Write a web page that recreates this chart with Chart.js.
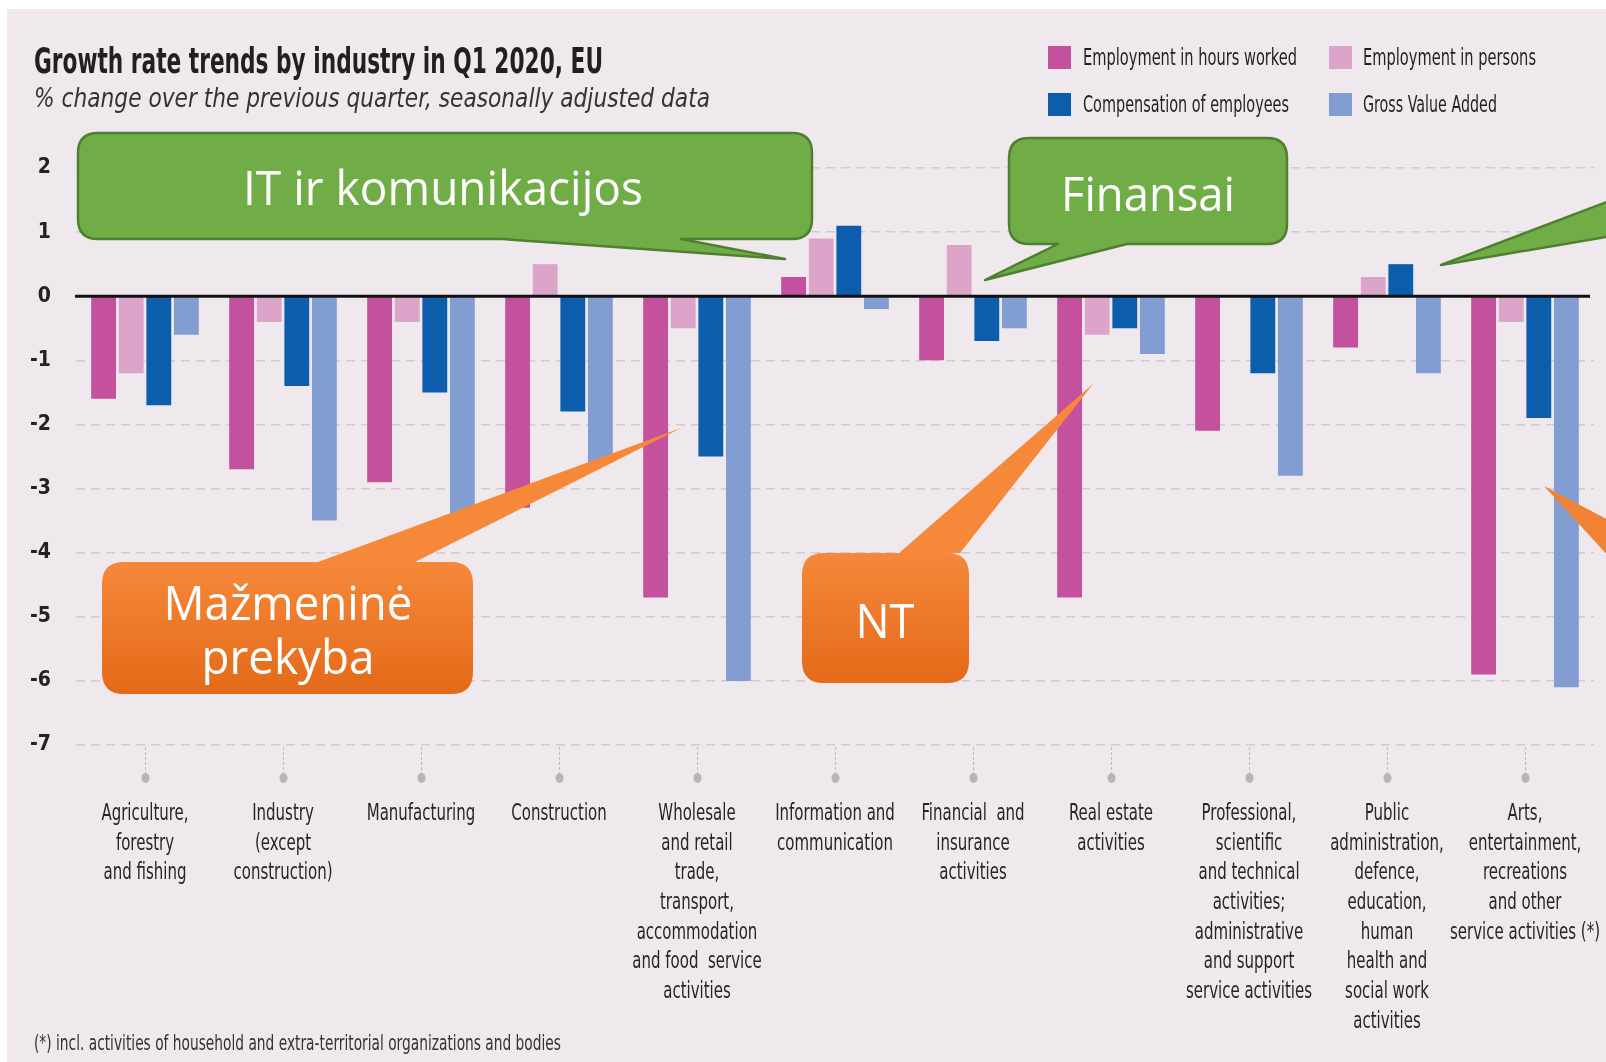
<!DOCTYPE html>
<html>
<head>
<meta charset="utf-8">
<script src="https://cdn.jsdelivr.net/npm/chart.js@4.4.1/dist/chart.umd.min.js"></script>
<style>
  html, body { margin:0; padding:0; background:#ffffff; width:1606px; height:1062px; overflow:hidden; }
  #panel { position:absolute; left:7px; top:9px; width:1599px; height:1053px; background:#EFE9ED; }
  #c { position:absolute; left:0; top:0; }
  #ov { position:absolute; left:0; top:0; pointer-events:none; }
  #ov text { white-space: pre; }
</style>
</head>
<body>
<div id="panel"></div>
<canvas id="c" width="1606" height="1062"></canvas>
<svg id="ov" width="1606" height="1062" xmlns="http://www.w3.org/2000/svg"></svg>
<script>
// ---------------- DATA ----------------
const categories = [
  ["Agriculture,", "forestry", "and fishing"],
  ["Industry", "(except", "construction)"],
  ["Manufacturing"],
  ["Construction"],
  ["Wholesale", "and retail", "trade,", "transport,", "accommodation", "and food  service", "activities"],
  ["Information and", "communication"],
  ["Financial  and", "insurance", "activities"],
  ["Real estate", "activities"],
  ["Professional,", "scientific", "and technical", "activities;", "administrative", "and support", "service activities"],
  ["Public", "administration,", "defence,", "education,", "human", "health and", "social work", "activities"],
  ["Arts,", "entertainment,", "recreations", "and other", "service activities (*)"]
];
const seriesNames = ["Employment in hours worked", "Employment in persons", "Compensation of employees", "Gross Value Added"];
const employmentHours   = [-1.6, -2.7, -2.9, -3.3, -4.7,  0.3, -1.0, -4.7, -2.1, -0.8, -5.9];
const employmentPersons = [-1.2, -0.4, -0.4,  0.5, -0.5,  0.9,  0.8, -0.6,  0.0,  0.3, -0.4];
const compensation      = [-1.7, -1.4, -1.5, -1.8, -2.5,  1.1, -0.7, -0.5, -1.2,  0.5, -1.9];
const grossValueAdded   = [-0.6, -3.5, -3.6, -2.6, -6.0, -0.2, -0.5, -0.9, -2.8, -1.2, -6.1];
const yTicks = [2, 1, 0, -1, -2, -3, -4, -5, -6, -7];

const titleText = "Growth rate trends by industry in Q1 2020, EU";
const subtitleText = "% change over the previous quarter, seasonally adjusted data";
const footnoteText = "(*) incl. activities of household and extra-territorial organizations and bodies";
const calloutTexts = [["IT ir komunikacijos"], ["Finansai"], ["Mažmeninė", "prekyba"], ["NT"]];

// ---------------- STYLE / LAYOUT ----------------
const COLORS = ["#C4519D", "#DDA4C9", "#0C5EAD", "#819DD1"];
const NARROW = '"Liberation Sans Narrow", "DejaVu Sans Condensed", "Liberation Sans", sans-serif';
const CALL_FONT = '"Open Sans", "Noto Sans", sans-serif';

const series = [employmentHours, employmentPersons, compensation, grossValueAdded];

// zero line + tick stems/dots
const extras = {
  id: 'extras',
  afterDatasetsDraw(chart) {
    const ctx = chart.ctx, a = chart.chartArea;
    const ys = chart.scales.y, xs = chart.scales.x;
    ctx.save();
    const y0 = ys.getPixelForValue(0);
    ctx.strokeStyle = '#111';
    ctx.lineWidth = 3;
    ctx.beginPath(); ctx.moveTo(a.left - 1, y0); ctx.lineTo(a.right - 4, y0); ctx.stroke();
    for (let i = 0; i < categories.length; i++) {
      const x = Math.round(xs.getPixelForValue(i)) + 0.5;
      ctx.strokeStyle = '#BDB8BC'; ctx.lineWidth = 1;
      ctx.setLineDash([3, 2]);
      ctx.beginPath(); ctx.moveTo(x, a.bottom + 2); ctx.lineTo(x, a.bottom + 30); ctx.stroke();
      ctx.setLineDash([]);
      ctx.fillStyle = '#B9B4B8';
      ctx.beginPath(); ctx.ellipse(x, a.bottom + 33, 4, 5, 0, 0, Math.PI * 2); ctx.fill();
    }
    ctx.restore();
  }
};

const chart = new Chart(document.getElementById('c'), {
  type: 'bar',
  data: {
    labels: categories,
    datasets: series.map((d, i) => ({
      label: seriesNames[i], data: d, backgroundColor: COLORS[i], borderWidth: 0
    }))
  },
  options: {
    responsive: false,
    animation: false,
    devicePixelRatio: 1,
    layout: { padding: { top: 168, right: 12, bottom: 0, left: 0 } },
    plugins: { legend: { display: false }, tooltip: { enabled: false }, title: { display: false } },
    datasets: { bar: { categoryPercentage: 0.8, barPercentage: 0.9 } },
    scales: {
      x: {
        grid: { display: false, drawTicks: false },
        border: { display: false },
        ticks: { display: false },
        afterFit(s) { s.height = 317; }
      },
      y: {
        min: -7, max: 2,
        afterBuildTicks(s) { s.ticks = yTicks.map(v => ({ value: v })); },
        grid: {
          drawTicks: false, lineWidth: 1.5,
          color: c => (c.tick && c.tick.value === 0) ? 'rgba(0,0,0,0)' : '#D2CCD0'
        },
        border: { display: false, dash: [9, 6] },
        ticks: { color: '#222222', padding: 25, font: { family: NARROW, size: 21, weight: 'bold' } },
        afterFit(s) { s.width = 76; }
      }
    }
  },
  plugins: [extras]
});

// ---------------- SVG OVERLAY ----------------
const NS = 'http://www.w3.org/2000/svg';
const svg = document.getElementById('ov');
function el(tag, attrs, parent) {
  const e = document.createElementNS(NS, tag);
  for (const k in attrs) e.setAttribute(k, attrs[k]);
  (parent || svg).appendChild(e);
  return e;
}
function txt(str, o, parent) {
  const t = el('text', {
    x: o.x, y: o.y, 'font-family': o.family || NARROW, 'font-size': o.size,
    'font-weight': o.weight || 'normal', 'font-style': o.style || 'normal',
    fill: o.color || '#231F20', 'text-anchor': o.anchor || 'start'
  }, parent);
  if (o.width) { t.setAttribute('textLength', o.width); t.setAttribute('lengthAdjust', 'spacingAndGlyphs'); }
  t.textContent = str;
  return t;
}

// x-axis category labels (condensed, centred under each category)
const XL = { size: 23, firstBaseline: 820, lineGap: 29.7, refWord: "Manufacturing", refWidth: 108.6 };
(function () {
  const probe = txt(XL.refWord, { x: 0, y: -100, size: XL.size });
  const k = XL.refWidth / probe.getComputedTextLength();
  probe.remove();
  const xs = chart.scales.x;
  categories.forEach((lines, i) => {
    const cx = xs.getPixelForValue(i);
    const g = el('g', { transform: `translate(${cx},0) scale(${k},1)` });
    lines.forEach((ln, j) => {
      txt(ln, { x: 0, y: XL.firstBaseline + j * XL.lineGap, size: XL.size, anchor: 'middle', color: '#262626' }, g);
    });
  });
})();

const defs = el('defs', {});
function orangeGrad(id, y1, y2) {
  const g = el('linearGradient', { id, x1: 0, y1: y1, x2: 0, y2: y2, gradientUnits: 'userSpaceOnUse' }, defs);
  el('stop', { offset: 0, 'stop-color': '#F6883A' }, g);
  el('stop', { offset: 1, 'stop-color': '#E36A18' }, g);
}

// title / subtitle
txt(titleText, { x: 34, y: 73, size: 36, weight: 'bold', width: 569 });
txt(subtitleText, { x: 34, y: 107, size: 27, style: 'italic', width: 676, color: '#333' });

// legend
const LEG = [
  { sx: 1048, sy: 46, tx: 1083, ty: 65, w: 214 },
  { sx: 1329, sy: 46, tx: 1363, ty: 65, w: 173 },
  { sx: 1048, sy: 93, tx: 1083, ty: 112, w: 206 },
  { sx: 1329, sy: 93, tx: 1363, ty: 112, w: 134 }
];
seriesNames.forEach((n, i) => {
  const L = LEG[i];
  el('rect', { x: L.sx, y: L.sy, width: 23, height: 23, fill: COLORS[i] });
  txt(n, { x: L.tx, y: L.ty, size: 23, width: L.w, color: '#231F20' });
});

// footnote
txt(footnoteText, { x: 34, y: 1050, size: 21, width: 527, color: '#333' });

// callouts
function bubblePath(b) {
  const { x, y, w, h, r, tail } = b;
  const R = x + w, B = y + h;
  let d = `M${x + r},${y}`;
  if (tail && tail.edge === 'top') d += ` L${tail.a},${y} L${tail.tx},${tail.ty} L${tail.b},${y}`;
  d += ` L${R - r},${y} Q${R},${y} ${R},${y + r} L${R},${B - r} Q${R},${B} ${R - r},${B}`;
  if (tail && tail.edge === 'bottom') d += ` L${tail.b},${B} L${tail.tx},${tail.ty} L${tail.a},${B}`;
  d += ` L${x + r},${B} Q${x},${B} ${x},${B - r} L${x},${y + r} Q${x},${y} ${x + r},${y} Z`;
  return d;
}
const GREEN = '#70AD47', GREEN_EDGE = '#4F7F30';
const CALLOUTS = [
  { kind: 'green', x: 78, y: 133, w: 734, h: 106, r: 20, tail: { edge: 'bottom', a: 502, b: 681, tx: 785, ty: 259 },
    lines: [{ cx: 443, y: 205, w: 400 }] },
  { kind: 'green', x: 1009, y: 138, w: 278, h: 106, r: 20, tail: { edge: 'bottom', a: 1058, b: 1127, tx: 985, ty: 280 },
    lines: [{ cx: 1148, y: 211, w: 174 }] },
  { kind: 'orange', x: 102, y: 562, w: 371, h: 132, r: 22, tail: { edge: 'top', a: 318, b: 415, tx: 681, ty: 428 },
    lines: [{ cx: 288, y: 620, w: 249 }, { cx: 288, y: 674, w: 173 }] },
  { kind: 'orange', x: 802, y: 553, w: 167, h: 130, r: 22, tail: { edge: 'top', a: 899, b: 960, tx: 1093, ty: 384 },
    lines: [{ cx: 885, y: 638, w: 59 }] }
];
CALLOUTS.forEach((c, i) => {
  let fill = GREEN, stroke = GREEN_EDGE, sw = 2.5;
  if (c.kind === 'orange') {
    orangeGrad('og' + i, c.y, c.y + c.h);
    fill = 'url(#og' + i + ')'; stroke = 'none'; sw = 0;
  }
  el('path', { d: bubblePath(c), fill, stroke, 'stroke-width': sw, 'stroke-linejoin': 'round' });
  c.lines.forEach((ln, j) => {
    txt(calloutTexts[i][j], { x: ln.cx, y: ln.y, size: 47, family: CALL_FONT, anchor: 'middle', width: ln.w, color: '#FFFFFF' });
  });
});
el('path', { d: 'M1441,265 L1612,200 L1612,236 Z', fill: GREEN, stroke: GREEN_EDGE, 'stroke-width': 2.5, 'stroke-linejoin': 'round' });
el('path', { d: 'M1544,486 L1612,522 L1612,560 Z', fill: '#F08236' });
</script>
</body>
</html>
